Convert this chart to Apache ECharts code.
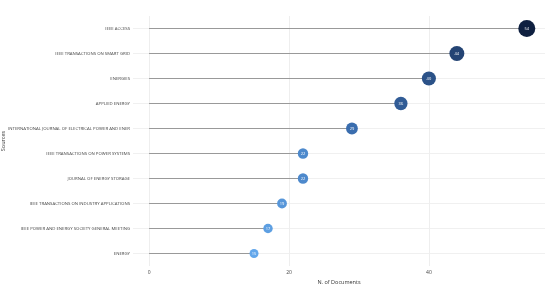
<!DOCTYPE html>
<html><head><meta charset="utf-8">
<script src="https://cdn.jsdelivr.net/npm/echarts@6/dist/echarts.min.js"></script>
<style>html,body{margin:0;padding:0;background:#fff}#c{width:550px;height:284px}</style>
</head><body><div id="c"></div>
<script>
const sources = [
  'IEEE ACCESS',
  'IEEE TRANSACTIONS ON SMART GRID',
  'ENERGIES',
  'APPLIED ENERGY',
  'INTERNATIONAL JOURNAL OF ELECTRICAL POWER AND ENER',
  'IEEE TRANSACTIONS ON POWER SYSTEMS',
  'JOURNAL OF ENERGY STORAGE',
  'IEEE TRANSACTIONS ON INDUSTRY APPLICATIONS',
  'IEEE POWER AND ENERGY SOCIETY GENERAL MEETING',
  'ENERGY'
];
const documents = [54, 44, 40, 36, 29, 22, 22, 19, 17, 15];
const xTicks = [0, 20, 40];

const chart = echarts.init(document.getElementById('c'), null, {renderer: 'canvas'});
const fontFam = '"Open Sans", sans-serif';
chart.setOption({
  animation: false,
  backgroundColor: '#fff',
  grid: {left: 133, right: 5, top: 16, bottom: 18, containLabel: false, outerBoundsMode: 'none'},
  xAxis: {
    type: 'value', min: -2.3, max: 56.6,
    name: 'N. of Documents', nameLocation: 'middle', nameGap: 12,
    nameTextStyle: {fontSize: 5.5, color: '#333', fontFamily: fontFam},
    axisLine: {show: false}, axisTick: {show: false, customValues: xTicks},
    axisLabel: {customValues: xTicks, fontSize: 5, color: '#444', margin: 4, fontFamily: fontFam},
    splitLine: {show: true, lineStyle: {color: '#eeeeee', width: 1}}
  },
  yAxis: {
    type: 'category', data: sources, inverse: true,
    name: 'Sources', nameLocation: 'middle', nameGap: 127, nameRotate: 90, nameMoveOverlap: false,
    nameTextStyle: {fontSize: 5.5, color: '#333', fontFamily: fontFam},
    axisLine: {show: false}, axisTick: {show: false, alignWithLabel: true},
    axisLabel: {fontSize: 4.3, color: '#444', margin: 3, fontFamily: fontFam},
    splitLine: {show: true, alignWithLabel: true, lineStyle: {color: '#f0f0f0', width: 1}}
  },
  visualMap: {
    show: false, seriesIndex: 1, dimension: 0, min: 15, max: 54,
    inRange: {color: ['#63a7eb', '#3b70b2', '#2a4f84', '#0f2040'], symbolSize: [9, 17]}
  },
  series: [
    {
      type: 'bar', data: documents, barWidth: 1, silent: true,
      itemStyle: {color: '#999999'}, z: 2
    },
    {
      type: 'scatter', z: 3,
      data: documents.map((v, i) => [v, sources[i]]),
      label: {show: true, position: 'inside', color: '#fff', fontSize: 4, fontFamily: fontFam,
        formatter: p => p.value[0]},
      itemStyle: {opacity: 1}
    }
  ]
});
</script></body></html>
